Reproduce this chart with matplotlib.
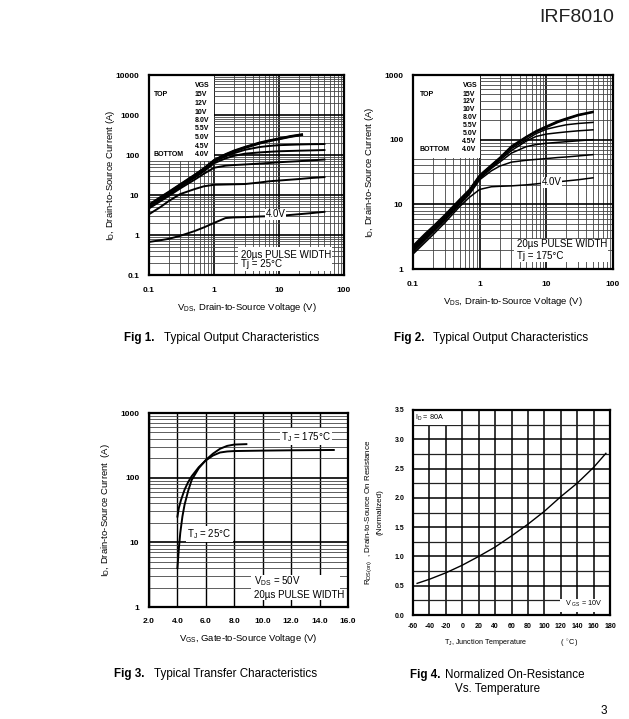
import numpy as np
import matplotlib
matplotlib.use('Agg')
import matplotlib.pyplot as plt
from matplotlib.patches import Rectangle
from matplotlib.ticker import LogLocator, MultipleLocator, NullFormatter

plt.rcParams['font.family'] = ['Liberation Sans', 'DejaVu Sans']
plt.rcParams['mathtext.fontset'] = 'custom'
plt.rcParams['mathtext.rm'] = 'Liberation Sans'
plt.rcParams['mathtext.it'] = 'Liberation Sans:italic'
plt.rcParams['mathtext.bf'] = 'Liberation Sans:bold'

W, H = 629, 719

# ---------------- data: Fig 1 (Tj = 25C) ----------------
vgs_labels = ['15V', '12V', '10V', '8.0V', '5.5V', '5.0V', '4.5V', '4.0V']

f1_v_top = [0.1, 0.15, 0.2, 0.3, 0.5, 0.7, 1, 1.5, 2, 3, 5, 7, 10, 15, 22.6]
f1_i_15 = [5.8, 8.9, 12, 18.5, 32, 47, 75, 105, 128, 160, 205, 232, 260, 298, 330]
f1_i_12 = [5.6, 8.6, 11.6, 18, 31, 45.5, 73, 102, 124, 155, 198, 226, 253, 290, 322]
f1_i_10 = [5.4, 8.3, 11.2, 17.4, 30, 44, 71, 99, 120, 150, 192, 220, 247, 283, 315]
f1_v = [0.1, 0.15, 0.2, 0.3, 0.5, 0.7, 1, 1.5, 2, 3, 5, 7, 10, 20, 30, 50]
f1_i_8 = [5.3, 8.0, 10.8, 16.8, 29, 42, 68, 92, 110, 135, 158, 168, 176, 183, 186, 188]
f1_i_55 = [5.0, 7.6, 10.2, 15.8, 27, 39, 62, 82, 95, 108, 116, 120, 124, 128, 130, 133]
f1_i_50 = [4.6, 7.0, 9.4, 14.5, 24, 34, 48, 54, 56, 58, 61, 63, 66, 70, 73, 77]
f1_i_45 = [3.3, 5.0, 7.0, 10.5, 14, 16.5, 18, 18.3, 18.5, 18.8, 20.5, 22, 23, 25, 26.5, 28]
f1_i_40 = [0.67, 0.74, 0.8, 0.95, 1.25, 1.55, 2.0, 2.65, 2.75, 2.8, 2.9, 2.95, 3.0, 3.3, 3.5, 3.8]

# ---------------- data: Fig 2 (Tj = 175C) ----------------
f2_v = [0.1, 0.15, 0.2, 0.3, 0.5, 0.7, 1, 1.5, 2, 3, 5, 7, 10, 15, 20, 30, 50]
f2_i_15 = [2.3, 3.5, 4.6, 6.9, 12, 17, 28.5, 41, 53, 80, 112, 137, 162, 195, 215, 245, 273]
f2_i_12 = [2.2, 3.35, 4.4, 6.6, 11.5, 16.4, 27.7, 40, 52, 78, 110, 134, 158, 190, 210, 240, 268]
f2_i_10 = [2.1, 3.2, 4.2, 6.4, 11.1, 15.9, 27, 39, 51, 76, 107, 131, 154, 185, 205, 235, 263]
f2_i_8 = [2.05, 3.1, 4.1, 6.2, 10.8, 15.5, 26.5, 38, 50, 73, 100, 124, 145, 160, 170, 178, 185]
f2_i_55 = [2.0, 3.0, 4.0, 6.0, 10.5, 15.1, 26, 37, 48, 68, 95, 112, 122, 128, 132, 137, 142]
f2_i_50 = [1.9, 2.9, 3.85, 5.8, 10.2, 14.7, 25, 36, 45, 62, 78, 84, 88, 91, 93, 96, 100]
f2_i_45 = [1.8, 2.75, 3.7, 5.6, 9.9, 14.2, 24, 33, 39, 45, 48, 49.5, 51, 53, 54, 56, 58.7]
f2_i_40 = [1.7, 2.55, 3.4, 5.2, 9.2, 12.8, 17, 18.7, 19, 19.3, 20, 20.7, 21.5, 22.3, 23, 24, 25.7]

# ---------------- data: Fig 3 (transfer) ----------------
f3_vgs_25 = [4.0, 4.1, 4.2, 4.35, 4.5, 4.75, 5.0, 5.5, 6.0, 6.5, 7.0, 7.5, 8.0, 8.85]
f3_id_25 = [4.0, 8.0, 14, 25, 38, 62, 92, 140, 188, 235, 280, 310, 325, 330]
f3_vgs_175 = [4.0, 4.1, 4.25, 4.5, 4.75, 5.0, 5.5, 6.0, 6.5, 7.0, 7.5, 8.0, 10, 12, 15]
f3_id_175 = [25, 34, 45, 65, 85, 105, 145, 185, 220, 245, 254, 258, 262, 265, 268]

# ---------------- data: Fig 4 (normalized RDS(on)) ----------------
f4_tj = [-55, -40, -20, 0, 20, 40, 60, 80, 100, 120, 140, 160, 175]
f4_rds = [0.54, 0.61, 0.72, 0.85, 1.0, 1.16, 1.35, 1.55, 1.77, 2.02, 2.25, 2.52, 2.76]


def px_rect(left, top, right, bottom):
    return [left / W, (H - bottom) / H, (right - left) / W, (bottom - top) / H]


def px(x, y):
    return x / W, (H - y) / H


def style_axes(ax, size=6):
    ax.set_axisbelow(True)
    for s in ax.spines.values():
        s.set_linewidth(1.6)
    ax.tick_params(which='both', length=0, labelsize=size)
    for lab in ax.get_xticklabels() + ax.get_yticklabels():
        lab.set_fontweight('bold')


def log_grid(ax, axis='both'):
    axes = [ax.xaxis, ax.yaxis] if axis == 'both' else [ax.yaxis]
    for a in axes:
        a.set_minor_locator(LogLocator(base=10, subs=np.arange(2, 10)))
        a.set_minor_formatter(NullFormatter())
    ax.grid(True, which='major', axis=axis, color='black', lw=1.2)
    ax.grid(True, which='minor', axis=axis, color='#444444', lw=0.6)


def vgs_legend(ax, x_text, x_vals, y0, dy, fs=5):
    kw = dict(transform=ax.transAxes, fontsize=fs, fontweight='bold', va='center', zorder=5)
    ax.text(x_vals + 0.04, y0 + dy * 1.1, 'VGS', ha='center', **kw)
    ax.text(x_text, y0, 'TOP', ha='left', **kw)
    ax.text(x_text, y0 - dy * (len(vgs_labels) - 1), 'BOTTOM', ha='left', **kw)
    for k, lab in enumerate(vgs_labels):
        ax.text(x_vals, y0 - dy * k, lab, ha='left', **kw)


fig = plt.figure(figsize=(W / 100, H / 100), dpi=100)

# ---------------- Fig 1 ----------------
ax1 = fig.add_axes(px_rect(149, 75, 344, 275))
ax1.set_xscale('log')
ax1.set_yscale('log')
ax1.set_xlim(0.1, 100)
ax1.set_ylim(0.1, 10000)
log_grid(ax1)
ax1.set_xticks([0.1, 1, 10, 100], ['0.1', '1', '10', '100'])
ax1.set_yticks([0.1, 1, 10, 100, 1000, 10000], ['0.1', '1', '10', '100', '1000', '10000'])
style_axes(ax1)
ax1.tick_params(axis='x', pad=9)
ax1.tick_params(axis='y', pad=7)
ax1.add_patch(Rectangle((0.1, 70), 0.9, 9930, facecolor='white', edgecolor='none', zorder=1))
ax1.add_patch(Rectangle((0.457, 0.021), 0.483, 0.12, transform=ax1.transAxes,
                        facecolor='white', edgecolor='none', zorder=1))
for i in (f1_i_15, f1_i_12, f1_i_10):
    ax1.plot(f1_v_top, i, color='black', lw=1.4, zorder=3)
for i in (f1_i_8, f1_i_55, f1_i_50, f1_i_45, f1_i_40):
    ax1.plot(f1_v, i, color='black', lw=1.4, zorder=3)
vgs_legend(ax1, 0.025, 0.235, 0.9, 0.0425)
ax1.text(6.2, 3.3, '4.0V', fontsize=7, va='center', zorder=5,
         bbox=dict(facecolor='white', edgecolor='none', pad=0.5))
ax1.text(0.474, 0.102, '20µs PULSE WIDTH', transform=ax1.transAxes, fontsize=7, va='center', zorder=5)
ax1.text(0.474, 0.054, 'Tj = 25°C', transform=ax1.transAxes, fontsize=7, va='center', zorder=5)
ax1.set_xlabel(r'V$_{\mathrm{DS}}$, Drain-to-Source Voltage (V)', fontsize=6.8, labelpad=5)
ax1.set_ylabel(r'I$_{\mathrm{D}}$, Drain-to-Source Current (A)', fontsize=6.8, labelpad=-1)

# ---------------- Fig 2 ----------------
ax2 = fig.add_axes(px_rect(413, 75, 613, 269))
ax2.set_xscale('log')
ax2.set_yscale('log')
ax2.set_xlim(0.1, 100)
ax2.set_ylim(1, 1000)
log_grid(ax2)
ax2.set_xticks([0.1, 1, 10, 100], ['0.1', '1', '10', '100'])
ax2.set_yticks([1, 10, 100, 1000], ['1', '10', '100', '1000'])
style_axes(ax2)
ax2.tick_params(axis='x', pad=9)
ax2.tick_params(axis='y', pad=7)
ax2.add_patch(Rectangle((0.1, 52), 0.9, 948, facecolor='white', edgecolor='none', zorder=1))
ax2.add_patch(Rectangle((0.506, 0.037), 0.467, 0.119, transform=ax2.transAxes,
                        facecolor='white', edgecolor='none', zorder=1))
for i in (f2_i_15, f2_i_12, f2_i_10, f2_i_8, f2_i_55, f2_i_50, f2_i_45, f2_i_40):
    ax2.plot(f2_v, i, color='black', lw=1.1, zorder=3)
vgs_legend(ax2, 0.033, 0.247, 0.902, 0.0407)
ax2.text(8.5, 22, '4.0V', fontsize=7, va='center', zorder=5,
         bbox=dict(facecolor='white', edgecolor='none', pad=0.5))
ax2.text(0.52, 0.128, '20µs PULSE WIDTH', transform=ax2.transAxes, fontsize=7, va='center', zorder=5)
ax2.text(0.52, 0.068, 'Tj = 175°C', transform=ax2.transAxes, fontsize=7, va='center', zorder=5)
ax2.set_xlabel(r'V$_{\mathrm{DS}}$, Drain-to-Source Voltage (V)', fontsize=6.8, labelpad=5)
ax2.set_ylabel(r'I$_{\mathrm{D}}$, Drain-to-Source Current (A)', fontsize=6.8, labelpad=6)

# ---------------- Fig 3 ----------------
ax3 = fig.add_axes(px_rect(149, 413, 348, 607))
ax3.set_yscale('log')
ax3.set_xlim(2, 16)
ax3.set_ylim(1, 1000)
log_grid(ax3, axis='y')
ax3.grid(True, which='major', axis='x', color='black', lw=1.0)
ax3.set_xticks(np.arange(2, 17, 2), ['%.1f' % v for v in np.arange(2, 17, 2)])
ax3.set_yticks([1, 10, 100, 1000], ['1', '10', '100', '1000'])
style_axes(ax3)
ax3.tick_params(axis='x', pad=8)
ax3.tick_params(axis='y', pad=7)
ax3.plot(f3_vgs_25, f3_id_25, color='black', lw=1.4, zorder=3)
ax3.plot(f3_vgs_175, f3_id_175, color='black', lw=1.4, zorder=3)
wbox = dict(facecolor='white', edgecolor='none', pad=1)
ax3.text(11.3, 430, r'T$_{\mathrm{J}}$ = 175°C', fontsize=7, va='center', zorder=5, bbox=wbox)
ax3.text(4.67, 13.4, r'T$_{\mathrm{J}}$ = 25°C', fontsize=7, va='center', zorder=5, bbox=wbox)
ax3.add_patch(Rectangle((9.2, 1.27), 6.26, 1.8, facecolor='white', edgecolor='none', zorder=1))
ax3.text(9.36, 2.48, r'V$_{\mathrm{DS}}$ = 50V', fontsize=7, va='center', zorder=5)
ax3.text(9.36, 1.51, '20µs PULSE WIDTH', fontsize=7, va='center', zorder=5)
ax3.set_xlabel(r'V$_{\mathrm{GS}}$, Gate-to-Source Voltage (V)', fontsize=6.8, labelpad=5)
ax3.set_ylabel(r'I$_{\mathrm{D}}$, Drain-to-Source Current  (A)', fontsize=6.8, labelpad=6)

# ---------------- Fig 4 ----------------
ax4 = fig.add_axes(px_rect(413, 410, 610, 615))
ax4.set_xlim(-60, 180)
ax4.set_ylim(0, 3.5)
ax4.set_xticks(np.arange(-60, 181, 20), [str(v) for v in range(-60, 181, 20)])
ax4.set_yticks(np.arange(0, 3.51, 0.5), ['%.1f' % v for v in np.arange(0, 3.51, 0.5)])
ax4.yaxis.set_minor_locator(MultipleLocator(0.25))
ax4.grid(True, which='major', color='black', lw=1.1)
ax4.grid(True, which='minor', axis='y', color='#222222', lw=0.9)
style_axes(ax4, size=5)
ax4.tick_params(axis='x', pad=6)
ax4.tick_params(axis='y', pad=6)
ax4.plot(f4_tj, f4_rds, color='black', lw=1.0, zorder=3)
ax4.add_patch(Rectangle((-60, 3.245), 59, 0.255, facecolor='white', edgecolor='none', zorder=1))
ax4.text(-57, 3.37, r'I$_{\mathrm{D}}$ = 80A', fontsize=5.2, va='center', zorder=5)
ax4.add_patch(Rectangle((119.6, 0.045), 59.2, 0.225, facecolor='white', edgecolor='none', zorder=1))
ax4.text(125.7, 0.19, r'V $_{\mathrm{GS}}$ = 10V', fontsize=5.2, va='center', zorder=5)
ax4.set_xlabel(r'T$_{\mathrm{J}}$, Junction Temperature                 ( $^\circ$C)',
               fontsize=5.2, labelpad=5)
ax4.set_ylabel(r'R$_{\mathrm{DS(on)}}$  , Drain-to-Source On Resistance' + '\n(Normalized)',
               fontsize=5.8, labelpad=8, linespacing=1.6)

# ---------------- page text ----------------
cap = 8.4
fig.text(*px(614, 17), 'IRF8010', fontsize=14, color='#222222', ha='right', va='center')
fig.text(*px(124, 338), 'Fig 1.', fontsize=cap, fontweight='bold', va='center')
fig.text(*px(164, 338), 'Typical Output Characteristics', fontsize=cap, va='center')
fig.text(*px(394, 338), 'Fig 2.', fontsize=cap, fontweight='bold', va='center')
fig.text(*px(433, 338), 'Typical Output Characteristics', fontsize=cap, va='center')
fig.text(*px(114, 674), 'Fig 3.', fontsize=cap, fontweight='bold', va='center')
fig.text(*px(154, 674), 'Typical Transfer Characteristics', fontsize=cap, va='center')
fig.text(*px(410, 675), 'Fig 4.', fontsize=cap, fontweight='bold', va='center')
fig.text(*px(445, 675), 'Normalized On-Resistance', fontsize=cap, va='center')
fig.text(*px(455, 689), 'Vs. Temperature', fontsize=cap, va='center')
fig.text(*px(607, 711), '3', fontsize=8.5, ha='right', va='center')

fig.savefig('out.png', dpi=100)
